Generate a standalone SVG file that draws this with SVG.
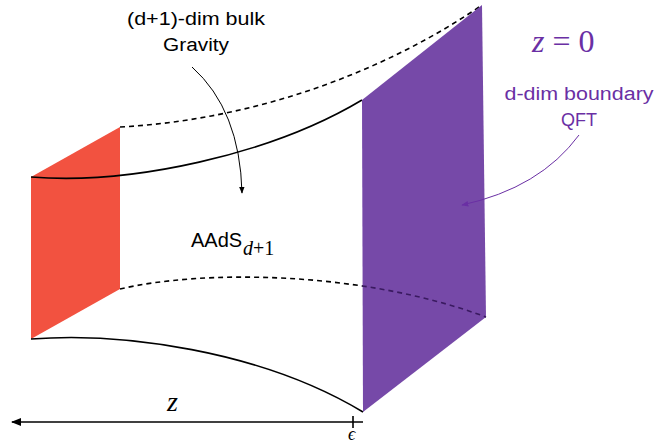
<svg xmlns="http://www.w3.org/2000/svg" width="656" height="445" viewBox="0 0 656 445">
<defs>
<style>
.ln{fill:none;stroke:#000;stroke-width:1.6}
.dash{fill:none;stroke:#000;stroke-width:1.6;stroke-dasharray:5 4}
.sans{font-family:"Liberation Sans",Arial,sans-serif}
.serif{font-family:"Liberation Serif","Times New Roman",serif}
.it{font-style:italic}
.up{font-style:normal}
.purp{fill:#6a2fa4}
</style>
<marker id="ah" viewBox="0 0 10 10" refX="9" refY="5" markerWidth="7" markerHeight="7" orient="auto" markerUnits="userSpaceOnUse"><path d="M0,1 L10,5 L0,9 Z" fill="#000"/></marker>
<marker id="ahp" viewBox="0 0 10 10" refX="9" refY="5" markerWidth="7" markerHeight="7" orient="auto" markerUnits="userSpaceOnUse"><path d="M0,1 L10,5 L0,9 Z" fill="#6a2fa4"/></marker>
<marker id="axl" viewBox="0 0 10 10" refX="1" refY="5" markerWidth="10" markerHeight="10" orient="auto" markerUnits="userSpaceOnUse"><path d="M10,1 L0,5 L10,9 Z" fill="#000"/></marker>
<clipPath id="pc"><polygon points="362,100 482,5 486,317 363,412"/></clipPath>
</defs>
<g id="surface-red"><polygon points="31,177 120,127 120,289 31,339" fill="#f25240"/></g>
<g id="connectors">
<path class="ln" d="M31,177 C130,185 270,155 362,100"/>
<path class="dash" d="M120,127 C250,120 380,75 482,5"/>
<path class="dash" d="M120,289 C200,270 360,270 486,317"/>
<path class="ln" d="M31,339 C120,332 260,350 363,412"/>
</g>
<g id="boundary-purple"><polygon points="362,100 482,5 486,317 363,412" fill="#7649a8"/>
<path d="M120,289 C200,270 360,270 486,317" fill="none" stroke="#3a1a60" stroke-width="1.6" stroke-dasharray="5 4" clip-path="url(#pc)"/></g>
<g id="axis">
<line x1="12" y1="422" x2="363" y2="422" stroke="#000" stroke-width="1.6" marker-start="url(#axl)"/>
<line x1="353" y1="416" x2="353" y2="428" stroke="#000" stroke-width="1.6"/>
<text class="serif it" x="167" y="411" font-size="28">z</text>
<text class="serif it" x="348" y="440" font-size="18">ϵ</text>
</g>
<g id="label-bulk">
<text class="sans" x="196" y="25" font-size="18" text-anchor="middle" textLength="138" lengthAdjust="spacingAndGlyphs">(d+1)-dim bulk</text>
<text class="sans" x="196" y="51" font-size="18" text-anchor="middle" textLength="66" lengthAdjust="spacingAndGlyphs">Gravity</text>
<path d="M192,67 Q240,110 242,193" fill="none" stroke="#000" stroke-width="1" marker-end="url(#ah)"/>
</g>
<g id="label-aads">
<text class="sans" x="191" y="247" font-size="20">AAdS</text>
<text class="serif up" x="243" y="255" font-size="20"><tspan class="it">d</tspan>+1</text>
</g>
<g id="label-boundary">
<text class="serif purp" x="532" y="52" font-size="32"><tspan class="it">z</tspan> = 0</text>
<text class="sans purp" x="579" y="100" font-size="18" text-anchor="middle" textLength="149" lengthAdjust="spacingAndGlyphs">d-dim boundary</text>
<text class="sans purp" x="579" y="126" font-size="18" text-anchor="middle">QFT</text>
<path d="M579,135 Q540,188 462,205" fill="none" stroke="#6a2fa4" stroke-width="1" marker-end="url(#ahp)"/>
</g>
</svg>
